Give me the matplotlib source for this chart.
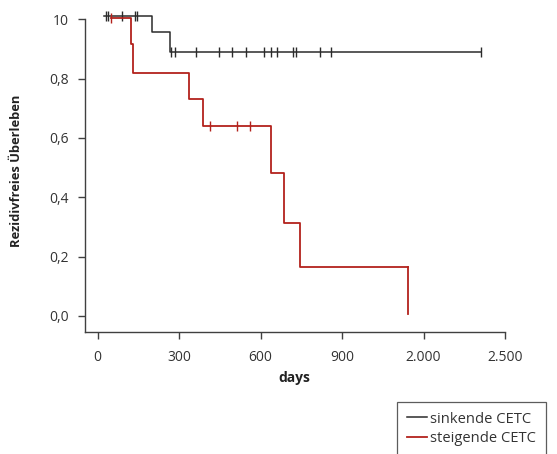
import matplotlib
matplotlib.use("Agg")
import matplotlib.pyplot as plt
from matplotlib.lines import Line2D

plt.rcParams['font.family'] = ['Open Sans', 'DejaVu Sans']

# axis positions (axis units) and their labels
xtick_pos = [0, 300, 600, 900, 1200, 1500]
xtick_labels = ["0", "300", "600", "900", "2.000", "2.500"]
ytick_pos = [0.0, 0.2, 0.4, 0.6, 0.8, 1.0]
ytick_labels = ["0,0", "0,2", "0,4", "0,6", "0,8", "10"]

# sinkende CETC (step curve)
black_x = [23, 201, 267, 1411]
black_y = [1.012, 0.958, 0.890, 0.890]
black_cens_x = [30, 39, 91, 137, 147, 272, 284, 363, 446, 495, 545, 614, 637, 662, 720, 731, 819, 859, 1411]
black_cens_y = [1.012] * 5 + [0.890] * 14

# steigende CETC (step curve)
red_x = [48, 122, 132, 337, 388, 638, 686, 745, 1143]
red_y = [1.005, 0.917, 0.819, 0.730, 0.639, 0.481, 0.312, 0.165, 0.165]
red_end = 0.008
red_cens_x = [48, 415, 512, 560]
red_cens_y = [1.005, 0.639, 0.639, 0.639]

BLACK = "#2b2b2b"
RED = "#b3221c"
GRAY = "#404040"

fig = plt.figure(figsize=(5.57, 4.54), dpi=100)
ax = fig.add_axes([84.5 / 557, 1 - 332 / 454, (505 - 84.5) / 557, (332 - 10.4) / 454])

ax.step(black_x, black_y, where='post', color=BLACK, lw=1.1)
ax.plot(black_cens_x, black_cens_y, ls='none', marker='|', ms=7, mew=1.0, color=BLACK)

ax.step(red_x, red_y, where='post', color=RED, lw=1.3)
ax.plot([red_x[-1], red_x[-1]], [red_y[-1], red_end], color=RED, lw=1.3)
ax.plot(red_cens_x, red_cens_y, ls='none', marker='|', ms=7, mew=1.0, color=RED)

ax.set_xlim(-48, 1500)
ax.set_ylim(-0.054, 1.03)
for s in ['top', 'right']:
    ax.spines[s].set_visible(False)
ax.spines['left'].set_bounds(-0.054, 1.0)
ax.spines['bottom'].set_bounds(-48, 1500)
for s in ['left', 'bottom']:
    ax.spines[s].set_color(GRAY)
    ax.spines[s].set_linewidth(1.0)

ax.set_xticks(xtick_pos)
ax.set_xticklabels(xtick_labels)
ax.set_yticks(ytick_pos)
ax.set_yticklabels(ytick_labels)
ax.tick_params(axis='both', colors=GRAY, labelcolor='#333333', labelsize=10, length=5, width=1.0, direction='out')
ax.tick_params(axis='x', pad=8)
ax.tick_params(axis='y', pad=6)

ax.set_xlabel("days", fontsize=10, fontweight='bold', color='#222222', labelpad=4)
ax.set_ylabel("Rezidivfreies Überleben", fontsize=9.3, fontweight='bold', color='#222222', labelpad=19)

handles = [Line2D([], [], color=BLACK, lw=1.1), Line2D([], [], color=RED, lw=1.3)]
leg = fig.legend(handles, ["sinkende CETC", "steigende CETC"], loc='upper left',
                 bbox_to_anchor=(397 / 557, 1 - 402 / 454), fontsize=10.6, frameon=True,
                 fancybox=False, handlelength=1.4, handletextpad=0.2, borderpad=0.65,
                 labelspacing=0.3, borderaxespad=0)
leg.get_frame().set_edgecolor('#333333')
leg.get_frame().set_linewidth(0.9)
for t in leg.get_texts():
    t.set_color('#333333')

fig.savefig("out.png", dpi=100)
